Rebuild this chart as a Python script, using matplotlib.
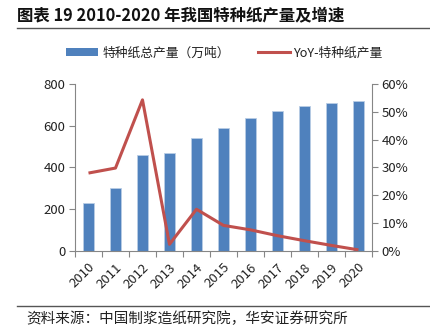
import matplotlib.pyplot as plt
from matplotlib.patches import Patch
from matplotlib.lines import Line2D
from matplotlib.ticker import PercentFormatter
import numpy as np

plt.rcParams['font.family'] = ['Noto Sans CJK SC', 'DejaVu Sans']

years = ['2010', '2011', '2012', '2013', '2014', '2015', '2016', '2017', '2018', '2019', '2020']
output = [230, 300, 460, 470, 540, 590, 635, 670, 695, 710, 720]
yoy = [28.0, 29.8, 54.3, 2.4, 15.0, 9.2, 7.6, 5.5, 3.7, 2.0, 0.4]

bar_color = '#4F81BD'
line_color = '#C0504D'
axis_color = '#868686'
text_color = '#222222'

fig = plt.figure(figsize=(4.3, 3.36), dpi=100)
ax = fig.add_axes([0.1744, 0.253, 0.6906, 0.497])
x = np.arange(len(years))

ax.bar(x, output, width=0.42, color=bar_color, edgecolor='#B9CDE5', linewidth=0.6, zorder=2)
ax.set_xlim(-0.5, len(years) - 0.5)
ax.set_ylim(0, 800)
ax.set_yticks(range(0, 801, 200))

ax2 = ax.twinx()
ax2.plot(x, yoy, color=line_color, linewidth=2.2, solid_capstyle='butt', zorder=3)
ax2.set_ylim(0, 60)
ax2.set_yticks(range(0, 61, 10))
ax2.yaxis.set_major_formatter(PercentFormatter(decimals=0))

# category boundaries carry the tick marks, labels sit under each bar
ax.set_xticks(np.arange(-0.5, len(years)), minor=False)
ax.set_xticklabels([])
ax.set_xticks(x, minor=True)
ax.set_xticklabels(years, minor=True, rotation=45, ha='right', va='top',
                   rotation_mode='anchor', fontsize=9.5, color=text_color)
ax.tick_params(axis='x', which='minor', length=0, pad=7)
ax.tick_params(axis='x', which='major', length=4, color=axis_color, direction='out')

for a in (ax, ax2):
    a.spines['top'].set_visible(False)
    for side in ('left', 'right', 'bottom'):
        a.spines[side].set_color(axis_color)
        a.spines[side].set_linewidth(0.8)
ax.spines['right'].set_visible(False)
ax2.spines['left'].set_visible(False)
ax2.spines['bottom'].set_visible(False)

ax.tick_params(axis='y', length=4, color=axis_color, labelsize=9.5, labelcolor=text_color, pad=3)
ax2.tick_params(axis='y', length=4, color=axis_color, labelsize=9.5, labelcolor=text_color, pad=3)

handles = [Patch(facecolor=bar_color, edgecolor='none'),
           Line2D([0], [0], color=line_color, linewidth=2.2)]
fig.legend(handles, ['特种纸总产量（万吨）', 'YoY-特种纸产量'], loc='center',
           bbox_to_anchor=(0.522, 0.842), ncol=2, frameon=False, fontsize=9.2,
           handlelength=2.5, handleheight=0.6, handletextpad=0.3, columnspacing=2.2,
           labelcolor=text_color)

fig.text(0.04, 0.955, '图表 19 2010-2020 年我国特种纸产量及增速', fontsize=11.8,
         fontweight='bold', va='center', ha='left', color='#111111')
fig.add_artist(Line2D([0.04, 1.0], [0.916, 0.916], color='#555555', linewidth=1.0))
fig.add_artist(Line2D([0.04, 1.0], [0.089, 0.089], color='#555555', linewidth=1.0))
fig.text(0.062, 0.05, '资料来源：中国制浆造纸研究院，华安证券研究所', fontsize=10.5,
         va='center', ha='left', color='#222222')

fig.savefig('out.png', dpi=100)
